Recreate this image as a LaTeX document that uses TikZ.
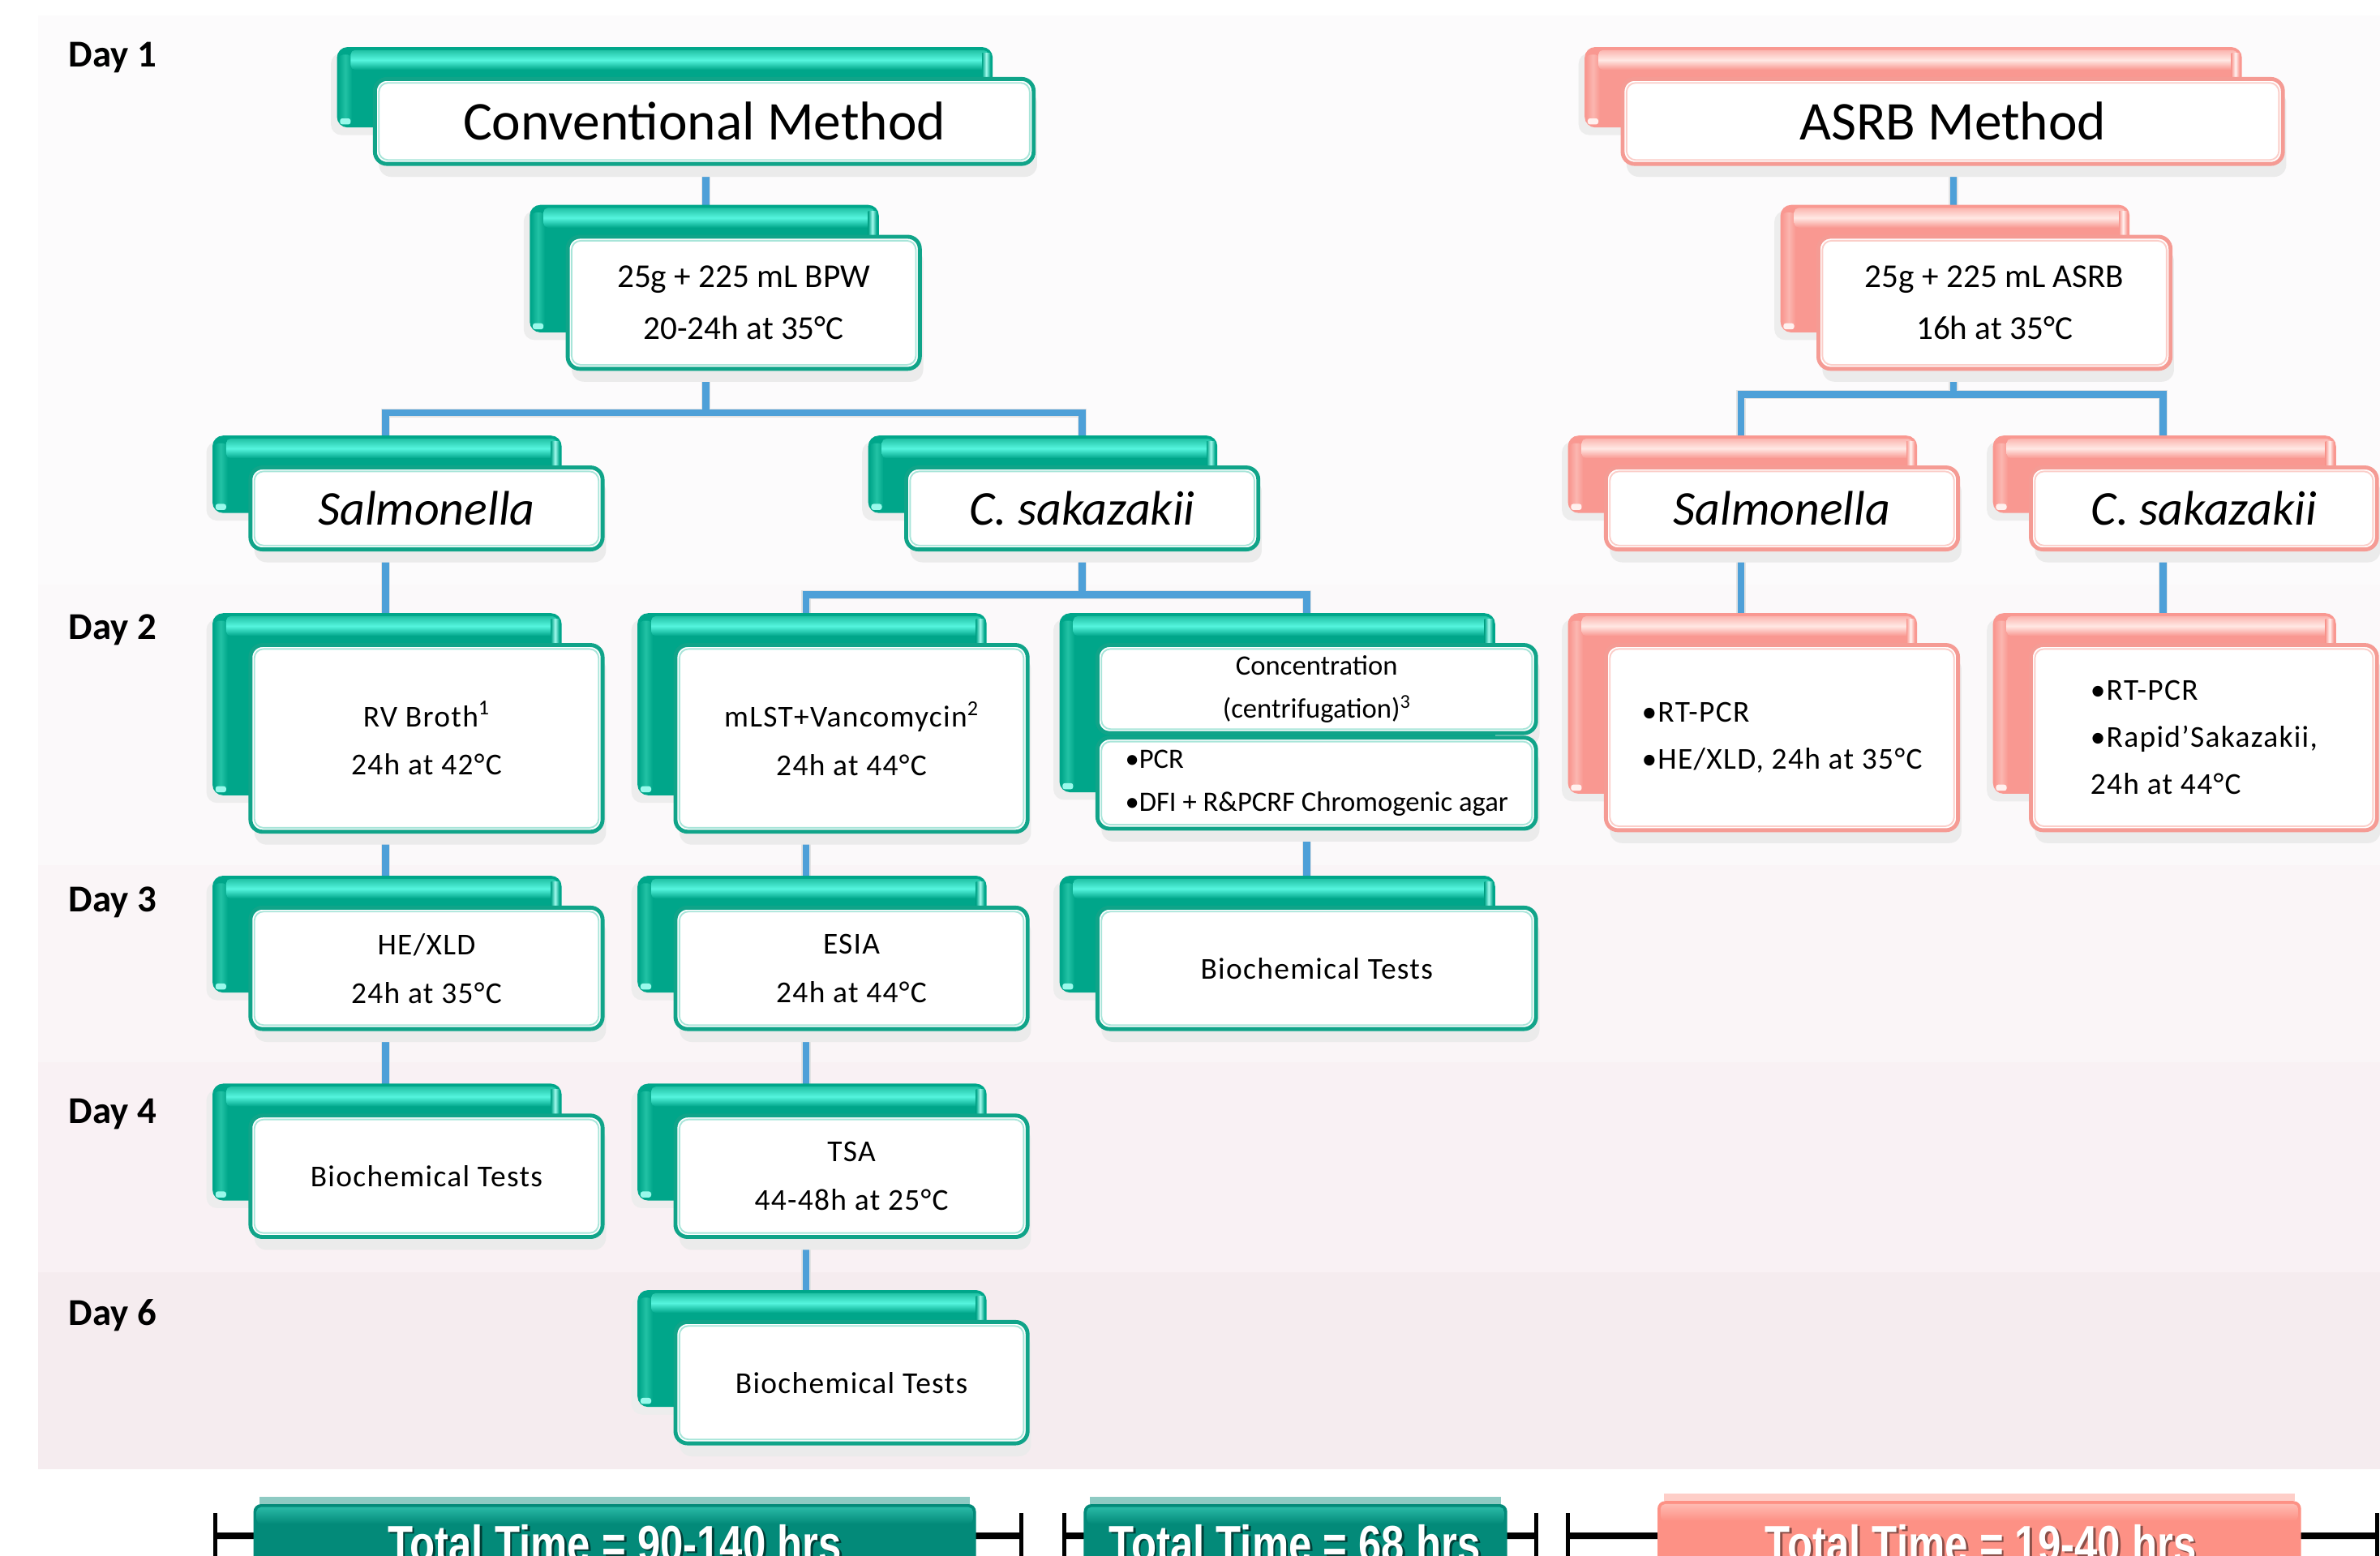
\documentclass[tikz,border=0pt]{standalone}
\usepackage{fontspec}
\setmainfont{Carlito}
\newfontfamily\spacedfont[LetterSpace=3.5]{Carlito}
\newfontfamily\arialfont{Liberation Sans}
\usetikzlibrary{calc}
\pgfdeclarelayer{bg}\pgfdeclarelayer{conn}\pgfdeclarelayer{shad}\pgfdeclarelayer{tab}
\pgfsetlayers{bg,conn,shad,tab,main}
\definecolor{tbase}{RGB}{0,166,138}
\definecolor{thl}{RGB}{85,245,222}
\definecolor{tlt}{RGB}{34,194,165}
\definecolor{tbord}{RGB}{16,164,137}
\definecolor{tinner}{RGB}{168,229,217}
\definecolor{sbase}{RGB}{249,152,145}
\definecolor{shl}{RGB}{255,232,228}
\definecolor{slt}{RGB}{251,182,176}
\definecolor{sbord}{RGB}{245,155,148}
\definecolor{sinner}{RGB}{251,206,201}
\definecolor{connc}{RGB}{78,160,216}
\definecolor{totT}{RGB}{3,138,121}
\definecolor{totThl}{RGB}{66,216,196}
\definecolor{totS}{RGB}{253,145,133}
\definecolor{totShl}{RGB}{255,214,207}
\definecolor{bandA}{RGB}{252,251,252}
\definecolor{bandB}{RGB}{251,249,250}
\definecolor{bandC}{RGB}{250,245,247}
\definecolor{bandD}{RGB}{249,241,244}
\definecolor{bandE}{RGB}{245,236,239}
\tikzset{
  front/.style={draw=#1bord, line width=2.6pt, fill=white, rounded corners=8pt,
    outer sep=0pt, inner sep=2pt, align=center,
    font=\spacedfont\fontsize{20}{32}\selectfont},
  conn/.style={draw=connc, line width=4.6pt},
  connsh/.style={draw=black!11, line width=6pt},
  dayl/.style={font=\bfseries\fontsize{25}{30}\selectfont, anchor=base west, inner sep=0pt},
  tline/.style={draw=black, line width=4.3pt},
  tlinesh/.style={draw=black!14, line width=5pt},
  tickl/.style={draw=black, line width=2.8pt},
  totbox/.style={fill=#1, rounded corners=5pt, minimum height=60pt, outer sep=0pt},
  tottext/.style={font=\arialfont\bfseries\fontsize{34}{40}\selectfont, text=white, inner sep=0pt, anchor=base},
  big/.style={font=\fontsize{36}{40}\selectfont},
  ital/.style={font=\itshape\fontsize{32}{36}\selectfont},
  mid/.style={font=\fontsize{22}{34}\selectfont},
  small/.style={font=\fontsize{18.5}{28}\selectfont},
  asl/.style={align=left, font=\spacedfont\fontsize{20}{31}\selectfont},
}
\newcommand\mybox[8][]{%
  \pgfmathsetmacro\mbcx{(#4+#6)/2}%
  \pgfmathsetmacro\mbcy{(#5+#7)/2}%
  \pgfmathsetmacro\mbw{#6-#4}%
  \pgfmathsetmacro\mbh{#7-#5}%
  \node[front=#3, minimum width=\mbw pt, minimum height=\mbh pt, #1] (#2) at (\mbcx,\mbcy) {#8};
  \draw[#3inner, line width=1pt, rounded corners=6pt] ($(#2.north west)+(2.6,2.6)$) rectangle ($(#2.south east)+(-2.6,-2.6)$);
  \begin{pgfonlayer}{shad}
  \foreach \i in {0,1.5,3,4.5}{
    \fill[black!8, rounded corners=8pt] ($(#2.north west)+(4-0.3*\i,8)$) rectangle ($(#2.south east)+(0.5*\i,4+\i)$);}
  \end{pgfonlayer}
}
\newcommand\mytab[3]{%
  \begin{pgfonlayer}{tab}
  \path let \p1=(#1.north west), \p2=(#2.south east) in
    (\x1-25pt,\y1+21pt) coordinate (#1-tl) (\x2-27pt,\y2+24pt) coordinate (#1-br)
    (\x2-27pt,\y1) coordinate (#1-fr);
  \foreach \i in {0,1.5,3}{
  \fill[black!7, rounded corners=7pt] let \p1=(#1-tl), \p2=(#1-br) in (\x1-1pt-\i pt,\y1-4pt) rectangle (\x2-20pt,\y2-2pt-\i pt);}
  \fill[#3base, rounded corners=7pt] (#1-tl) rectangle (#1-br);
  \shade[left color=#3base, right color=#3base, middle color=#3lt, rounded corners=3pt]
    let \p1=(#1-tl), \p2=(#1-br) in (\x1+1pt,\y1-5pt) rectangle (\x1+10pt,\y2+2pt);
  \shade[top color=#3lt, bottom color=#3base, middle color=#3hl, rounded corners=3pt]
    let \p1=(#1-tl), \p2=(#1-br) in (\x1+9pt,\y1-2pt) rectangle (\x2-3pt,\y1-15pt);
  \shade[left color=#3base, right color=#3base, middle color=#3hl!55!white]
    let \p1=(#1-tl), \p2=(#1-fr) in (\x2-7pt,\y1-4pt) rectangle (\x2-1.5pt,\y2);
  \fill[#3hl!60!white, rounded corners=1.5pt]
    let \p1=(#1-tl), \p2=(#1-br) in (\x1+2pt,\y2+2pt) rectangle (\x1+9pt,\y2+6pt);
  \end{pgfonlayer}}
\begin{document}
\begin{tikzpicture}[x=1pt,y=-1pt]
\useasboundingbox (0,0) rectangle (1568,1025);
\begin{pgfonlayer}{bg}
\fill[white] (0,0) rectangle (1568,1025);
\fill[bandA] (25,10) rectangle (1568,385);
\fill[bandB] (25,385) rectangle (1568,570);
\fill[bandC] (25,570) rectangle (1568,700);
\fill[bandD] (25,700) rectangle (1568,838);
\fill[bandE] (25,838) rectangle (1568,968);
\end{pgfonlayer}

% day labels
\node[dayl] (d1) at (45,44) {Day 1};
\node[dayl] (d2) at (45,421) {Day 2};
\node[dayl] (d3) at (45,601) {Day 3};
\node[dayl] (d4) at (45,740) {Day 4};
\node[dayl] (d6) at (45,873) {Day 6};

% conventional method
\mybox[big]{conv}{t}{247}{52}{681}{108}{Conventional Method}
\mybox[mid]{bpw}{t}{374}{156}{606}{243}{25g + 225 mL BPW\\20-24h at 35°C}
\mybox[ital]{salm}{t}{165}{308}{397}{362}{Salmonella}
\mybox[ital]{csak}{t}{597}{308}{829}{362}{C. sakazakii}
\mybox{rv}{t}{165}{425}{397}{548}{RV Broth\textsuperscript{1}\\24h at 42°C}
\mybox{mlst}{t}{445}{425}{677}{548}{mLST+Vancomycin\textsuperscript{2}\\24h at 44°C}
\mybox[small]{conc1}{t}{723}{425}{1012}{483}{Concentration\\(centrifugation)\textsuperscript{3}}
\mybox[small,align=left]{conc2}{t}{723}{486}{1012}{546}{•PCR\\•DFI + R\&PCRF Chromogenic agar}
\mybox{hexld}{t}{165}{598}{397}{678}{HE/XLD\\24h at 35°C}
\mybox{esia}{t}{445}{598}{677}{678}{ESIA\\24h at 44°C}
\mybox{bio3}{t}{723}{598}{1012}{678}{Biochemical Tests}
\mybox{bio4}{t}{165}{735}{397}{815}{Biochemical Tests}
\mybox{tsa}{t}{445}{735}{677}{815}{TSA\\44-48h at 25°C}
\mybox{bio6}{t}{445}{871}{677}{951}{Biochemical Tests}

% ASRB method
\mybox[big]{asrb}{s}{1069}{52}{1504}{108}{ASRB Method}
\mybox[mid]{asrbb}{s}{1198}{156}{1430}{243}{25g + 225 mL ASRB\\16h at 35°C}
\mybox[ital]{asalm}{s}{1058}{308}{1290}{362}{Salmonella}
\mybox[ital]{acsak}{s}{1338}{308}{1566}{362}{C. sakazakii}
\mybox[asl]{arsalm}{s}{1058}{425}{1290}{547}{•RT-PCR\\•HE/XLD, 24h at 35°C}
\mybox[asl,xshift=-8pt]{arcsak}{s}{1346}{425}{1574}{547}{•RT-PCR\\•Rapid’Sakazakii,\\24h at 44°C}

% tabs
\mytab{conv}{conv}{t}
\mytab{bpw}{bpw}{t}
\mytab{salm}{salm}{t}
\mytab{csak}{csak}{t}
\mytab{rv}{rv}{t}
\mytab{mlst}{mlst}{t}
\mytab{conc1}{conc2}{t}
\mytab{hexld}{hexld}{t}
\mytab{esia}{esia}{t}
\mytab{bio3}{bio3}{t}
\mytab{bio4}{bio4}{t}
\mytab{tsa}{tsa}{t}
\mytab{bio6}{bio6}{t}
\mytab{asrb}{asrb}{s}
\mytab{asrbb}{asrbb}{s}
\mytab{asalm}{asalm}{s}
\mytab{acsak}{acsak}{s}
\mytab{arsalm}{arsalm}{s}
\mytab{arcsak}{arcsak}{s}

% connectors
\coordinate (xc) at (465,0);
\coordinate (xs) at (254,0);
\coordinate (xk) at (713,0);
\coordinate (xm) at (531,0);
\coordinate (xn) at (861,0);
\coordinate (xa) at (1287,0);
\coordinate (xas) at (1147,0);
\coordinate (xak) at (1425,0);
\coordinate (bus1) at (465,272);
\coordinate (bus2) at (713,392);
\coordinate (bus3) at (1287,260);
\begin{pgfonlayer}{conn}
\foreach \s/\dx/\dy in {connsh/3/2, conn/0/0}{
\begin{scope}[shift={(\dx,\dy)}]
\draw[\s] (conv.south -| xc) -- (bpw.north -| xc);
\draw[\s] (bpw.south -| xc) -- (bus1);
\draw[\s] (salm.north -| xs) |- (bus1) -| (csak.north -| xk);
\draw[\s] (salm.south -| xs) -- (rv.north -| xs);
\draw[\s] (csak.south -| xk) -- (bus2);
\draw[\s] (mlst.north -| xm) |- (bus2) -| (conc1.north -| xn);
\draw[\s] (rv.south -| xs) -- (hexld.north -| xs);
\draw[\s] (mlst.south -| xm) -- (esia.north -| xm);
\draw[\s] (conc2.south -| xn) -- (bio3.north -| xn);
\draw[\s] (hexld.south -| xs) -- (bio4.north -| xs);
\draw[\s] (esia.south -| xm) -- (tsa.north -| xm);
\draw[\s] (tsa.south -| xm) -- (bio6.north -| xm);
\draw[\s] (asrb.south -| xa) -- (asrbb.north -| xa);
\draw[\s] (asrbb.south -| xa) -- (bus3);
\draw[\s] (asalm.north -| xas) |- (bus3) -| (acsak.north -| xak);
\draw[\s] (asalm.south -| xas) -- (arsalm.north -| xas);
\draw[\s] (acsak.south -| xak) -- (arcsak.north -| xak);
\end{scope}}
\end{pgfonlayer}

% timeline
\coordinate (ta1) at (142,1012);
\coordinate (ta2) at (673,1012);
\coordinate (tb1) at (701,1012);
\coordinate (tb2) at (1012,1012);
\coordinate (tc1) at (1033,1012);
\coordinate (tc2) at (1566,1012);
\begin{scope}[shift={(0,4)}]
\draw[tlinesh] (ta1) -- (ta2);
\draw[tlinesh] (tb1) -- (tb2);
\draw[tlinesh] (tc1) -- (tc2);
\end{scope}
\draw[tline] (ta1) -- (ta2);
\draw[tline] (tb1) -- (tb2);
\draw[tline] (tc1) -- (tc2);
\foreach \c in {ta1,ta2,tb1,tb2,tc1,tc2}{\draw[tickl] (\c) ++(0,-15) -- ++(0,45);}

% total time boxes
\node[totbox=totT, minimum width=476pt] (tot1) at (405,1021) {};
\node[totbox=totT, minimum width=279pt] (tot2) at (853.5,1021) {};
\node[totbox=totS, minimum width=424pt] (tot3) at (1304,1019) {};
\foreach \b/\c in {tot1/totT,tot2/totT,tot3/totS}{
  \fill[\c!45!white] ($(\b.north west)+(4,-5)$) rectangle ($(\b.north east)+(-4,0)$);
  \shade[top color=\c hl!60!\c, middle color=\c hl, bottom color=\c, rounded corners=3pt]
    ($(\b.north west)+(2,2)$) rectangle ($(\b.north east)+(-2,13)$);
}
\node[tottext, text=totT!45!black] (tot1s) at (406.5,1030.5) {\scalebox{0.8}[1]{Total Time = 90-140 hrs}};
\node[tottext] (tot1t) at (405,1029) {\scalebox{0.8}[1]{Total Time = 90-140 hrs}};
\node[tottext, text=totT!45!black] (tot2s) at (854.5,1030.5) {\scalebox{0.8}[1]{Total Time = 68 hrs}};
\node[tottext] (tot2t) at (853,1029) {\scalebox{0.8}[1]{Total Time = 68 hrs}};
\node[tottext, text=totS!55!black] (tot3s) at (1306.5,1030.5) {\scalebox{0.8}[1]{Total Time = 19-40 hrs}};
\node[tottext] (tot3t) at (1305,1029) {\scalebox{0.8}[1]{Total Time = 19-40 hrs}};
\end{tikzpicture}
\end{document}
